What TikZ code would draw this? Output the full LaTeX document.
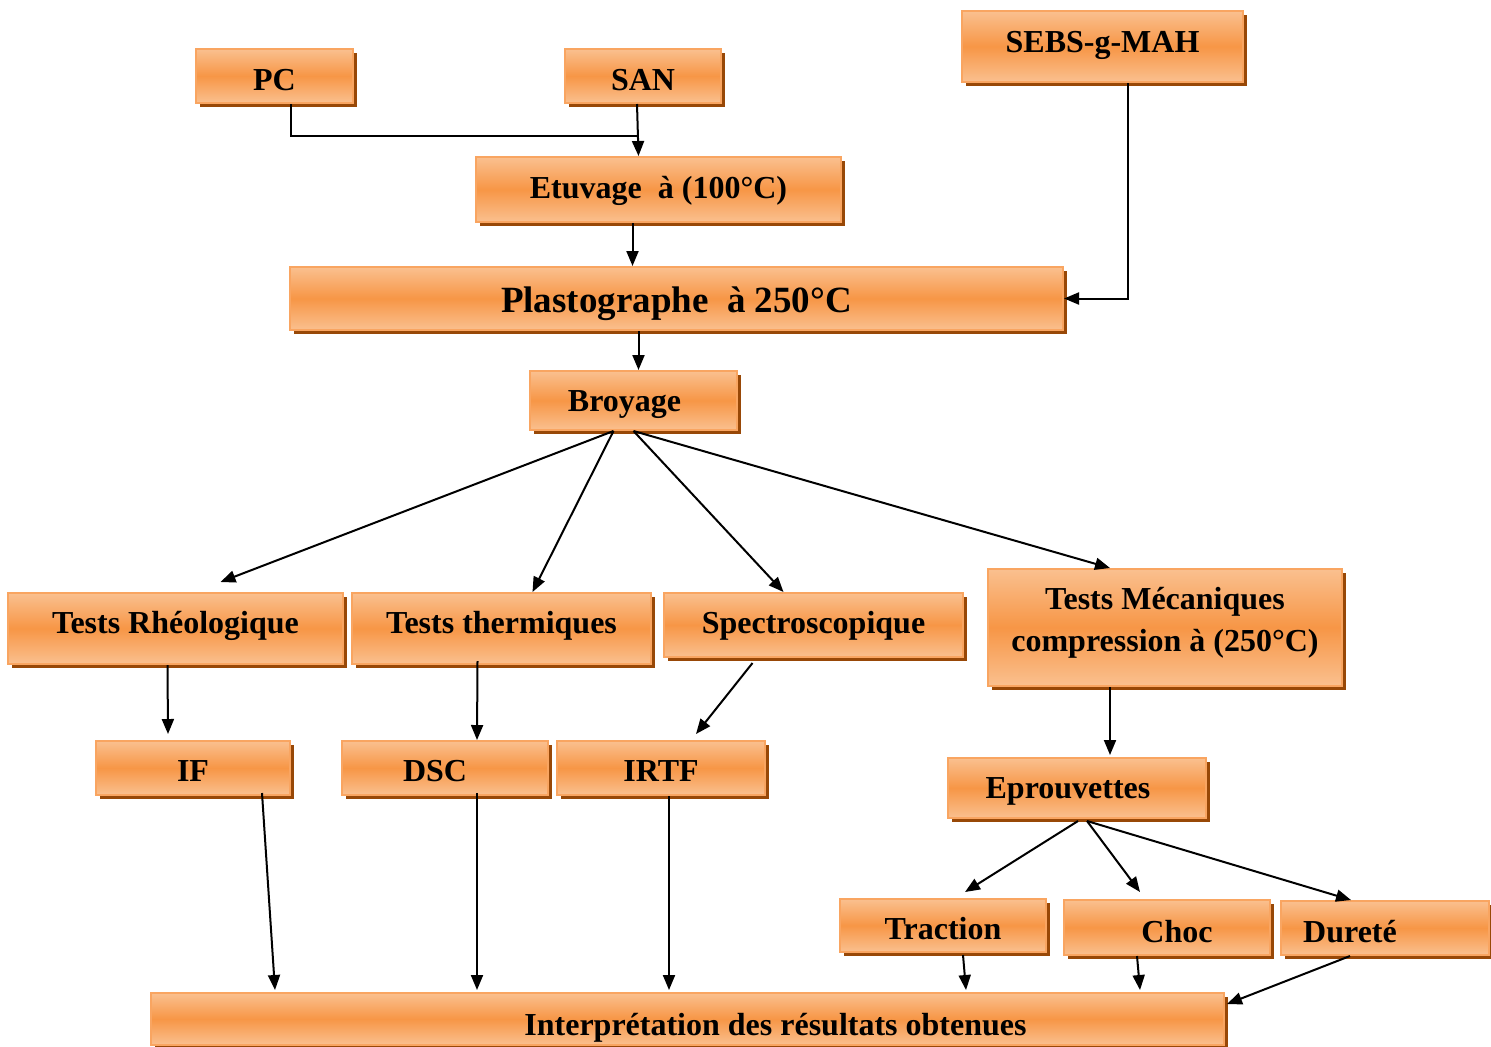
\documentclass[tikz,border=0pt]{standalone}
\usepackage{fontspec}
\setmainfont{Liberation Serif}
\usetikzlibrary{arrows.meta,calc,shadows}
\definecolor{boxlight}{HTML}{FAC08F}
\definecolor{boxmid}{HTML}{F79646}
\definecolor{boxedge}{HTML}{F9A561}
\definecolor{boxshade}{HTML}{984807}

\begin{document}
\begin{tikzpicture}[x=0.5pt, y=-0.5pt, line width=1pt, every node/.style={font=\bfseries\fontsize{16}{20.8}\selectfont}, box/.style={draw=boxedge,line width=1pt,top color=boxlight,bottom color=boxlight,middle color=boxmid,drop shadow={shadow xshift=2pt,shadow yshift=-2pt,fill=boxshade,opacity=1},inner sep=0pt,align=center}, bl/.style={text height=#1,text depth=0pt}, >={Triangle[length=7.5pt,width=6pt]}]
\useasboundingbox (0,0) rectangle (1491,1046);
\clip (0,0) rectangle (1491,1046);
\node[box,bl=14pt,minimum width=78.5pt,minimum height=27pt] (pc) at (274.5,76) {PC};
\node[box,bl=14pt,minimum width=78pt,minimum height=27pt] (san) at (643,76) {SAN};
\node[box,bl=5.5pt,minimum width=140.5pt,minimum height=35.5pt] (sebs) at (1102.5,46.5) {SEBS-g-MAH};
\node[box,bl=9pt,minimum width=182.5pt,minimum height=32.5pt] (etuvage) at (658.5,189.5) {Etuvage\ \ à (100°C)};
\node[box,bl=14pt,minimum width=386.5pt,minimum height=31.5pt,font=\bfseries\fontsize{18.5}{22}\selectfont] (plasto) at (676.5,298.5) {Plastographe\ \ à 250°C};
\node[box,bl=10.5pt,minimum width=103.5pt,minimum height=29.5pt] (broyage) at (633.5,400.5) {Broyage\hspace*{9pt}};
\node[box,bl=5pt,minimum width=167.5pt,minimum height=35.5pt] (rheo) at (175.5,628.5) {Tests Rhéologique};
\node[box,bl=5pt,minimum width=149.5pt,minimum height=35.5pt] (therm) at (501.5,628.5) {Tests thermiques};
\node[box,bl=8.5pt,minimum width=149.5pt,minimum height=32pt] (spectro) at (813.5,625) {Spectroscopique};
\node[box,bl=24pt,minimum width=177pt,minimum height=58.5pt] (meca) at (1165,627.5) {Tests Mécaniques\\compression à (250°C)};
\node[box,bl=13.5pt,minimum width=97pt,minimum height=27pt] (fluidite) at (193,768) {IF};
\node[box,bl=13.5pt,minimum width=103pt,minimum height=27pt] (dsc) at (445,768) {DSC\hspace*{10pt}};
\node[box,bl=13.5pt,minimum width=104pt,minimum height=27pt] (irtf) at (661,768) {IRTF};
\node[box,bl=10.5pt,minimum width=129pt,minimum height=30pt] (eprouv) at (1077,788) {Eprouvettes\hspace*{9pt}};
\node[box,bl=14pt,minimum width=103pt,minimum height=26.5pt] (traction) at (943,925.5) {Traction};
\node[box,bl=15pt,minimum width=103pt,minimum height=27.5pt] (choc) at (1167,927.5) {\hspace*{10pt}Choc};
\node[box,bl=14.5pt,minimum width=104pt,minimum height=27pt] (durete) at (1385,928) {Dureté\hspace*{35pt}};
\node[box,bl=16pt,minimum width=536.5pt,minimum height=26pt] (interp) at (687.5,1019) {\hspace*{88pt}Interprétation des résultats obtenues};
% PC joins the SAN line
\coordinate (jn) at (637,136);
\draw ($(pc.south)+(16,0)$) |- (jn);
\draw[->] ($(sebs.south)+(25,0)$) |- (plasto.east);
\foreach \a/\ax/\ay/\b/\bx/\by in {san.south/-6/0/etuvage.north/-20/0, etuvage.south/-26/0/plasto.north/-44/0, plasto.south/-38/0/broyage.north/5/0, broyage.south/-20/0/rheo.north/45/-10, broyage.south/-20/0/therm.north/31/0, broyage.south/0/0/spectro.north/-30/0, broyage.south/0/0/meca.north/-55/0, rheo.south/-8/0/fluidite.north/-25/-6, therm.south/-24/-4/dsc.north/32/0, spectro.south/-61/5/irtf.north/35/-6, meca.south/-55/0/eprouv.north/33/-2, eprouv.south/1/2/traction.north/22/-6, eprouv.south/10/2/choc.north/-27/-7, eprouv.south/10/2/durete.north/-34/0, fluidite.south/69/-3/interp.north/-412.5/-2, dsc.south/32/-3/interp.north/-210.5/-2, irtf.south/8/0/interp.north/-18.5/-2, traction.south/20/2/interp.north/278.5/-2, choc.south/-30/0/interp.north/452.5/-2, durete.south/-35/0/interp.north east/2/12} \draw[->] ($(\a)+(\ax,\ay)$) -- ($(\b)+(\bx,\by)$);
\end{tikzpicture}
\end{document}
